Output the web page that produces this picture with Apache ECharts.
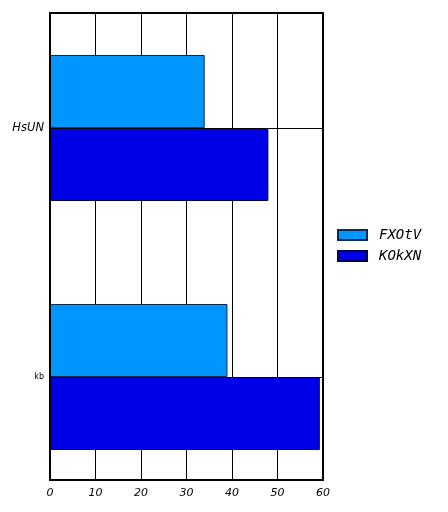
<!DOCTYPE html>
<html>
<head>
<meta charset="utf-8">
<script src="https://cdn.jsdelivr.net/npm/echarts@6/dist/echarts.min.js"></script>
<style>
  html, body { margin: 0; padding: 0; background: #fff; }
  #main { width: 448px; height: 512px; }
</style>
</head>
<body>
<div id="main"></div>
<script>
var categories = ['kb', 'HsUN'];
var fxotvValues = [39, 34];
var kokxnValues = [59.3, 48];

var chart = echarts.init(document.getElementById('main'));

var tickFont = 'DejaVu Sans';
var option = {
  animation: false,
  legend: {
    orient: 'vertical',
    left: 337,
    top: 228,
    padding: 0,
    icon: 'rect',
    itemWidth: 29,
    itemHeight: 10,
    itemGap: 7,
    textStyle: { fontFamily: 'DejaVu Sans Mono', fontStyle: 'italic', fontSize: 14, color: '#000', padding: [0, 0, 0, 7] },
    data: ['FXOtV', 'KOkXN']
  },
  grid: [
    { left: 50, top: 13, width: 273, height: 467, show: false },
    { left: 50, top: 3.5, width: 273, height: 498, show: false }
  ],
  xAxis: [
    {
      gridIndex: 0, type: 'value', min: 0, max: 60, interval: 10,
      axisLine: { show: false },
      axisTick: { show: false },
      axisLabel: { fontFamily: tickFont, fontStyle: 'italic', fontSize: 11, color: '#000', margin: 8 },
      splitLine: { show: true, lineStyle: { color: '#000', width: 1 } }
    },
    {
      gridIndex: 1, type: 'value', min: 0, max: 60, show: false,
      splitLine: { show: false }
    }
  ],
  yAxis: [
    {
      gridIndex: 0, type: 'value', min: 0, max: 1, show: false, splitLine: { show: false }
    },
    {
      gridIndex: 1, type: 'category', data: categories,
      axisLine: { show: false },
      axisTick: { show: false },
      splitLine: { show: false },
      axisLabel: {
        margin: 6,
        formatter: function (v) { return v === 'kb' ? '{s|' + v + '}' : '{b|' + v + '}'; },
        rich: {
          s: { fontFamily: tickFont, fontSize: 8, color: '#000' },
          b: { fontFamily: tickFont, fontStyle: 'italic', fontSize: 11.5, color: '#000' }
        }
      }
    }
  ],
  series: [
    {
      name: 'gridlines', type: 'line', xAxisIndex: 1, yAxisIndex: 1,
      data: [], silent: true,
      markLine: {
        silent: true, symbol: 'none', label: { show: false },
        lineStyle: { color: '#000', width: 1, type: 'solid' },
        data: categories.map(function (c) { return { yAxis: c }; })
      },
      z: 1
    },
    {
      name: 'FXOtV', type: 'bar', xAxisIndex: 1, yAxisIndex: 1,
      data: fxotvValues, barWidth: 73, barGap: '0%',
      itemStyle: { color: '#0096FF', borderColor: '#0B2A55', borderWidth: 1 },
      z: 3
    },
    {
      name: 'KOkXN', type: 'bar', xAxisIndex: 1, yAxisIndex: 1,
      data: kokxnValues, barWidth: 73, barGap: '0%',
      itemStyle: { color: '#0000E6', borderColor: '#000050', borderWidth: 1 },
      z: 3
    }
  ],
  graphic: [
    {
      type: 'rect', z: 100,
      shape: { x: 50, y: 13, width: 273, height: 467 },
      style: { fill: 'none', stroke: '#000', lineWidth: 2 }
    }
  ]
};

chart.setOption(option);
</script>
</body>
</html>
